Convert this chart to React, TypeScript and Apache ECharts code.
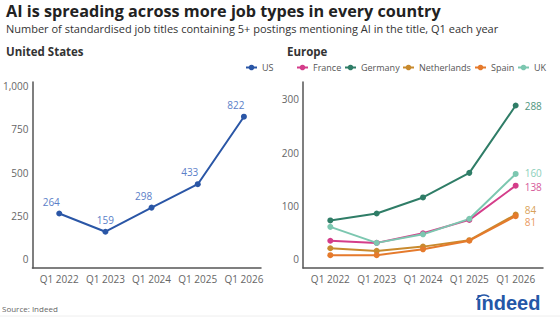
import React, { useEffect, useRef } from "react";
import * as echarts from "echarts";

const categories = ["Q1 2022", "Q1 2023", "Q1 2024", "Q1 2025", "Q1 2026"];
const usValues = [264, 159, 298, 433, 822];
const franceValues = [35, 31, 49, 74, 138];
const germanyValues = [73, 86, 116, 162, 288];
const netherlandsValues = [21, 16, 24, 36, 84];
const spainValues = [8, 8, 19, 35, 81];
const ukValues = [61, 31, 47, 76, 160];
const usTicks = [0, 250, 500, 750, 1000];
const euTicks = [0, 100, 200, 300];
const euNames = ["France", "Germany", "Netherlands", "Spain", "UK"];

const FONT = "Open Sans";
const AXIS_COLOR = "#555";
const LABEL_COLOR = "#666";

const toPoints = (vals: number[]) => vals.map((v, i) => [i, v]);

export default function App() {
  const ref = useRef<HTMLDivElement>(null);
  useEffect(() => {
    if (!ref.current) return;
    document.body.style.margin = "0";
    const chart = echarts.init(ref.current, null, { renderer: "svg" });

    const xAxisBase = (gridIndex: number, min: number, max: number) => ({
      type: "value" as const,
      gridIndex,
      min,
      max,
      splitLine: { show: false },
      axisTick: { show: false },
      axisLine: { show: true, onZero: false, lineStyle: { color: AXIS_COLOR, width: 1.5 } },
      axisLabel: {
        customValues: categories.map((_, i) => i),
        formatter: (v: number) => categories[Math.round(v)] ?? "",
        color: LABEL_COLOR,
        fontFamily: FONT,
        fontSize: 10,
        margin: 6,
      },
    });
    const yAxisBase = (gridIndex: number, min: number, max: number, ticks: number[]) => ({
      type: "value" as const,
      gridIndex,
      min,
      max,
      splitLine: { show: false },
      axisTick: { show: false },
      axisLine: { show: true, onZero: false, lineStyle: { color: AXIS_COLOR, width: 1.5 } },
      axisLabel: {
        customValues: ticks,
        formatter: (v: number) => v.toLocaleString("en-US"),
        color: LABEL_COLOR,
        fontFamily: FONT,
        fontSize: 10,
        margin: 4,
      },
    });

    const euSeries = (
      name: string,
      vals: number[],
      color: string,
      labelColor: string,
      offset: number[]
    ) => ({
      name,
      type: "line" as const,
      xAxisIndex: 1,
      yAxisIndex: 1,
      data: toPoints(vals),
      symbol: "circle",
      symbolSize: 6,
      lineStyle: { color, width: 2 },
      itemStyle: { color },
      endLabel: {
        show: true,
        color: labelColor,
        fontFamily: FONT,
        fontSize: 10,
        distance: 9,
        offset,
        formatter: (p: any) => String(p.value[1]),
      },
    });

    const legendText = { color: "#555", fontFamily: FONT, fontSize: 9 };
    const euLegendLeft = [296, 344, 402, 474, 517];
    const legendBase = {
      top: 63,
      padding: 0,
      itemWidth: 11,
      itemHeight: 7,
      itemGap: 4,
      textStyle: legendText,
    };

    chart.setOption({
      animation: false,
      backgroundColor: "#fff",
      grid: [
        { left: 31, top: 82, width: 230, height: 186 },
        { left: 303, top: 82, width: 240, height: 186 },
      ],
      xAxis: [xAxisBase(0, -0.58, 4.37), xAxisBase(1, -0.59, 4.59)],
      yAxis: [yAxisBase(0, -50, 1022, usTicks), yAxisBase(1, -16, 332, euTicks)],
      legend: [
        { ...legendBase, data: ["US"], left: 245 },
        ...euNames.map((n, i) => ({ ...legendBase, data: [n], left: euLegendLeft[i] })),
      ],
      series: [
        {
          name: "US",
          type: "line",
          xAxisIndex: 0,
          yAxisIndex: 0,
          data: usValues.map((v, i) => ({
            value: [i, v],
            label: { offset: i === 1 ? [0, 0] : [-8, 0] },
          })),
          symbol: "circle",
          symbolSize: 6,
          lineStyle: { color: "#2a56a6", width: 2 },
          itemStyle: { color: "#2a56a6" },
          label: {
            show: true,
            position: "top",
            distance: 4,
            color: "#5b80c8",
            fontFamily: FONT,
            fontSize: 10,
            formatter: (p: any) => String(p.value[1]),
          },
        },
        euSeries("France", franceValues, "#d43d8a", "#d65a9a", [0, 1]),
        euSeries("Germany", germanyValues, "#2f7d67", "#4f9680", [0, 0]),
        euSeries("Netherlands", netherlandsValues, "#c88a2e", "#d9a25a", [0, -5]),
        euSeries("Spain", spainValues, "#e57a2c", "#ea9a5f", [0, 6]),
        euSeries("UK", ukValues, "#7cc7b0", "#8ccfba", [0, -1]),
      ],
      graphic: [
        {
          type: "text",
          left: 6,
          top: 3,
          style: {
            text: "AI is spreading across more job types in every country",
            fill: "#222",
            font: `bold 16.2px '${FONT}'`,
          },
        },
        {
          type: "text",
          left: 6,
          top: 23,
          style: {
            text: "Number of standardised job titles containing 5+ postings mentioning AI in the title, Q1 each year",
            fill: "#333",
            font: `11px '${FONT}'`,
          },
        },
        {
          type: "text",
          left: 6,
          top: 45,
          style: { text: "United States", fill: "#333", font: `bold 11.5px '${FONT}'` },
        },
        {
          type: "text",
          left: 287,
          top: 45,
          style: { text: "Europe", fill: "#333", font: `bold 11.5px '${FONT}'` },
        },
        {
          type: "text",
          left: 2,
          top: 304,
          style: { text: "Source: Indeed", fill: "#666", font: `8px '${FONT}'` },
        },
        {
          type: "text",
          left: 476,
          top: 293,
          style: { text: "indeed", fill: "#2557a7", font: "bold 20px 'Liberation Sans'" },
        },
        {
          type: "arc",
          shape: { cx: 484, cy: 303, r: 8, startAngle: Math.PI * 1.12, endAngle: Math.PI * 1.72, clockwise: true },
          style: { stroke: "#2557a7", lineWidth: 1.6, fill: "none" },
        },
        {
          type: "line",
          shape: { x1: 0, y1: 316, x2: 560, y2: 316 },
          style: { stroke: "#eeeeee", lineWidth: 1 },
        },
      ],
    });
    return () => chart.dispose();
  }, []);
  return <div ref={ref} style={{ width: 560, height: 320 }} />;
}
